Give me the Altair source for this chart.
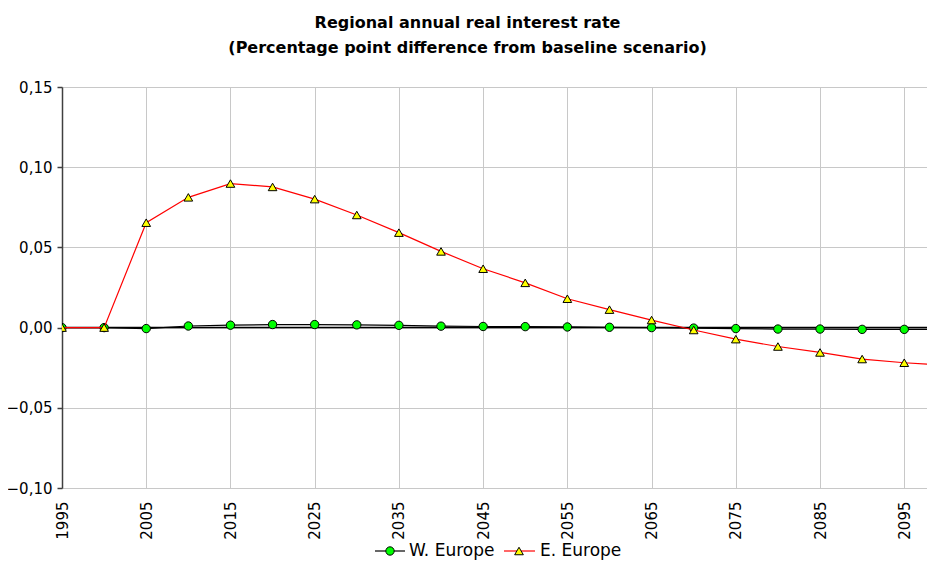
import altair as alt
import pandas as pd

years = [1995, 2000, 2005, 2010, 2015, 2020, 2025, 2030, 2035, 2040, 2045,
         2050, 2055, 2060, 2065, 2070, 2075, 2080, 2085, 2090, 2095, 2100]
w_europe = [0.0, 0.0, -0.0006, 0.0010, 0.0015, 0.0019, 0.0019, 0.0017, 0.0014,
            0.0009, 0.0007, 0.0006, 0.0004, 0.0002, 0.0, -0.0003, -0.0006,
            -0.0009, -0.0009, -0.0011, -0.0011, -0.0012]
e_europe = [0.0, 0.0, 0.0654, 0.0812, 0.0898, 0.0877, 0.0801, 0.0702, 0.0592,
            0.0475, 0.0367, 0.0279, 0.0180, 0.0112, 0.0047, -0.0015, -0.0072,
            -0.0118, -0.0155, -0.0196, -0.0219, -0.0235]
series_names = ["W. Europe", "E. Europe"]
line_colors = ["#000000", "#FF0000"]
marker_fills = ["#00FF00", "#FFFF00"]
marker_shapes = ["circle", "triangle-up"]
title_lines = ["Regional annual real interest rate",
               "(Percentage point difference from baseline scenario)"]
y_ticks = [-0.10, -0.05, 0.0, 0.05, 0.10, 0.15]
x_ticks = list(range(1995, 2096, 10))

FONT = "DejaVu Sans"
W, H = 865, 401

rows = []
for name, vals in zip(series_names, [w_europe, e_europe]):
    for yr, v in zip(years, vals):
        rows.append({"year": yr, "value": v, "series": name})
df = pd.DataFrame(rows)

xscale = alt.Scale(domain=[1995, 2097.7], nice=False, zero=False)
yscale = alt.Scale(domain=[-0.10, 0.15], nice=False, zero=False)

xaxis = alt.Axis(values=x_ticks, labelAngle=270, format="d", title=None,
                 domain=False, ticks=False, grid=True, gridColor="#c8c8c8",
                 labelFont=FONT, labelFontSize=15, labelColor="#000000",
                 labelPadding=13, labelFlush=False, labelOverlap=False)
yaxis = alt.Axis(values=y_ticks, title=None, format=".2f",
                 labelExpr="replace(format(datum.value, '.2f'), '.', ',')",
                 domain=True, domainColor="#404040", domainWidth=1.5,
                 ticks=True, tickColor="#404040", tickSize=5, tickWidth=1.5,
                 grid=True, gridColor="#c8c8c8",
                 labelFont=FONT, labelFontSize=15, labelColor="#000000",
                 labelPadding=5)

base = alt.Chart(df)

zero_rule = alt.Chart(pd.DataFrame({"y": [0.0]})).mark_rule(
    color="#000000", strokeWidth=1.5, clip=True
).encode(y=alt.Y("y:Q", scale=yscale, axis=yaxis))

layers = [zero_rule]
for i, name in enumerate(series_names):
    sub = base.transform_filter(alt.datum.series == name)
    line = sub.mark_line(color=line_colors[i], strokeWidth=1.2, clip=True).encode(
        x=alt.X("year:Q", scale=xscale, axis=xaxis),
        y=alt.Y("value:Q", scale=yscale, axis=yaxis),
    )
    pts = sub.mark_point(shape=marker_shapes[i], filled=True, fill=marker_fills[i],
                         stroke="#000000", strokeWidth=1, opacity=1,
                         size=70 if marker_shapes[i] == "circle" else 75,
                         clip=True).encode(
        x=alt.X("year:Q", scale=xscale, axis=xaxis),
        y=alt.Y("value:Q", scale=yscale, axis=yaxis),
    )
    layers += [line, pts]

# manual legend (line + marker + label), below the plot
leg_y = 464
leg_line_x = [(313, 343), (442, 473)]
leg_marker_x = [328, 457]
leg_text_x = [347, 478]
one = pd.DataFrame({"k": [0]})
for i, name in enumerate(series_names):
    x1, x2 = leg_line_x[i]
    layers.append(alt.Chart(one).mark_rule(color=line_colors[i], strokeWidth=1.2).encode(
        x=alt.value(x1), x2=alt.value(x2), y=alt.value(leg_y)))
    layers.append(alt.Chart(one).mark_point(
        shape=marker_shapes[i], filled=True, fill=marker_fills[i], stroke="#000000",
        strokeWidth=1, opacity=1, size=70 if marker_shapes[i] == "circle" else 75
    ).encode(x=alt.value(leg_marker_x[i]), y=alt.value(leg_y)))
    layers.append(alt.Chart(one).mark_text(
        text=name, font=FONT, fontSize=17, align="left", baseline="middle",
        color="#000000"
    ).encode(x=alt.value(leg_text_x[i]), y=alt.value(leg_y)))

chart = alt.layer(*layers).properties(
    width=W, height=H,
    title=alt.TitleParams(text=title_lines, font=FONT, fontSize=16, fontWeight="bold",
                          color="#000000", anchor="middle", dx=-27, offset=24,
                          lineHeight=25),
    autosize=alt.AutoSizeParams(type="none"),
    padding={"left": 54, "top": 79, "right": 0, "bottom": 75},
).configure_view(strokeWidth=0).configure(background="#ffffff")

chart.save("out.html", embed_options={"renderer": "svg", "actions": False})
